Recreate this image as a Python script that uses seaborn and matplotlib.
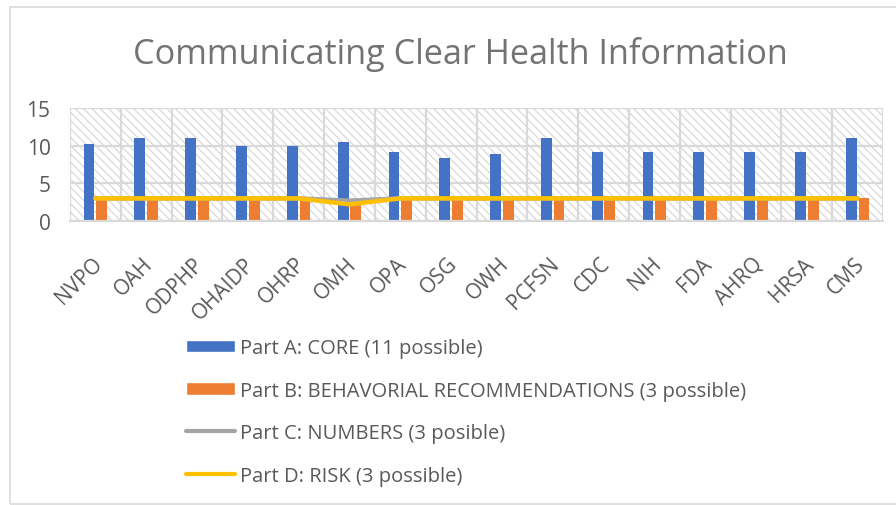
import numpy as np
import pandas as pd
import matplotlib
matplotlib.use('Agg')
import matplotlib.pyplot as plt
import matplotlib.transforms as mtrans
import seaborn as sns
from matplotlib.patches import Rectangle, Patch
from matplotlib.lines import Line2D

# chart values
categories = ['NVPO', 'OAH', 'ODPHP', 'OHAIDP', 'OHRP', 'OMH', 'OPA', 'OSG',
              'OWH', 'PCFSN', 'CDC', 'NIH', 'FDA', 'AHRQ', 'HRSA', 'CMS']
core = [10.2, 11, 11, 9.9, 9.9, 10.5, 9.2, 8.3, 8.9, 11, 9.2, 9.2, 9.2, 9.2, 9.2, 11]
behavioral = [3, 3, 3, 3, 3, 2.2, 3, 3, 3, 3, 3, 3, 3, 3, 3, 3]
numbers = [3, 3, 3, 3, 3, 2.7, 3, 3, 3, 3, 3, 3, 3, 3, 3, 3]
risk = [3, 3, 3, 3, 3, 2.2, 3, 3, 3, 3, 3, 3, 3, 3, 3, 3]

labels = ['Part A: CORE (11 possible)',
          'Part B: BEHAVORIAL RECOMMENDATIONS (3 possible)',
          'Part C: NUMBERS (3 posible)',
          'Part D: RISK (3 possible)']
colors = ['#4472C4', '#ED7D31', '#A5A5A5', '#FFC000']

bars = pd.DataFrame({'agency': categories * 2,
                     'score': core + behavioral,
                     'part': [labels[0]] * len(categories) + [labels[1]] * len(categories)})

sns.set_style('white')
plt.rcParams['font.family'] = ['Open Sans', 'DejaVu Sans']
plt.rcParams['hatch.linewidth'] = 0.9
txt = '#595959'
grid = '#d9d9d9'

fig = plt.figure(figsize=(8.96, 5.06), dpi=100)
ax = fig.add_axes([70 / 896, 1 - 222 / 506, (883 - 70) / 896, (222 - 109) / 506])
ax.set_facecolor('white')

# hatched plot area
ax.add_patch(Rectangle((0, 0), 1, 1, transform=ax.transAxes, facecolor='white',
                       edgecolor=grid, hatch='\\' * 4, lw=0, zorder=0.1))

sns.barplot(data=bars, x='agency', y='score', hue='part', palette=colors[:2],
            width=0.5, gap=0.15, ax=ax, legend=False, zorder=2,
            linewidth=0, edgecolor='none', saturation=1)

xs = np.arange(len(categories))
sns.lineplot(x=xs, y=numbers, color=colors[2], lw=3.2, ax=ax, zorder=3)
sns.lineplot(x=xs, y=risk, color=colors[3], lw=3.2, ax=ax, zorder=4)

ax.set_xlim(-0.5, len(categories) - 0.5)
ax.set_ylim(0, 15)
ax.set_yticks([0, 5, 10, 15])
ax.set_xticks(np.arange(-0.5, len(categories)), minor=True)
ax.grid(True, which='major', axis='y', color=grid, lw=1.6, zorder=0.5)
ax.grid(True, which='minor', axis='x', color=grid, lw=1.6, zorder=0.5)
ax.set_axisbelow(True)
for s in ['top', 'right', 'left']:
    ax.spines[s].set_visible(False)
ax.spines['bottom'].set_color(grid)
ax.spines['bottom'].set_linewidth(1.6)
ax.tick_params(axis='x', which='minor', length=7, width=1.6, color=grid)
ax.tick_params(axis='x', which='major', length=0, pad=23)
ax.tick_params(axis='y', length=0, pad=14, labelsize=15, labelcolor=txt)
ax.set_xticks(xs)
ax.set_xticklabels(categories, rotation=45, ha='right', va='top',
                   rotation_mode='anchor', fontsize=15, color=txt)
shift = mtrans.ScaledTranslation(-4 / 100, 0, fig.dpi_scale_trans)
for lab in ax.get_xticklabels():
    lab.set_transform(lab.get_transform() + shift)
ax.set_xlabel('')
ax.set_ylabel('')

fig.text(460 / 896, 1 - 54 / 506, 'Communicating Clear Health Information',
         ha='center', va='center', fontsize=24.7, color='#737373')

handles = [Patch(facecolor=colors[0]), Patch(facecolor=colors[1]),
           Line2D([], [], color=colors[2], lw=3),
           Line2D([], [], color=colors[3], lw=3)]
fig.legend(handles, labels, loc='upper left', bbox_to_anchor=(186 / 896, 1 - 339 / 506),
           frameon=False, fontsize=14.5, labelcolor=txt, handlelength=2.45,
           handleheight=0.6, handletextpad=0.25, labelspacing=1.12,
           borderpad=0, borderaxespad=0)

# outer chart border
fig.patches.append(Rectangle((10 / 896, 1 / 506), 1.0, 1 - 9 / 506, transform=fig.transFigure,
                             fill=False, edgecolor=grid, lw=1.2))

fig.savefig('out.png', dpi=100)
